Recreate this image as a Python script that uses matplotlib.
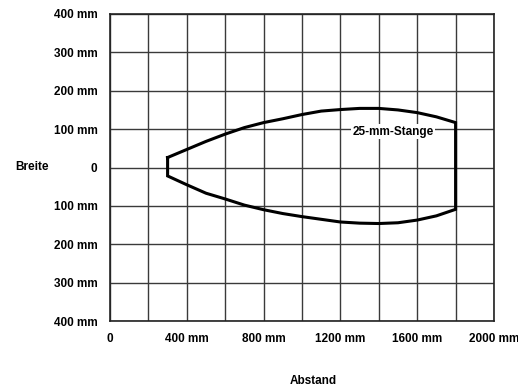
import matplotlib
matplotlib.use("Agg")
import matplotlib.pyplot as plt

# Abstand (mm) und Breite (mm) des Erfassungsbereichs
abstand = [300, 400, 500, 600, 700, 800, 900, 1000, 1100, 1200, 1300, 1400, 1500, 1600, 1700, 1800]
breite_oben = [26, 47, 68, 87, 104, 117, 127, 138, 147, 151, 154, 154, 150, 143, 132, 117]
breite_unten = [-22, -45, -67, -82, -98, -110, -120, -128, -135, -142, -145, -146, -144, -137, -126, -109]

x_ticks = [0, 400, 800, 1200, 1600, 2000]
x_labels = ['0', '400 mm', '800 mm', '1200 mm', '1600 mm', '2000 mm']
y_ticks = [-400, -300, -200, -100, 0, 100, 200, 300, 400]
y_labels = ['400 mm', '300 mm', '200 mm', '100 mm', '0', '100 mm', '200 mm', '300 mm', '400 mm']

plt.rcParams['font.family'] = ['Liberation Sans', 'DejaVu Sans']
plt.rcParams['font.weight'] = 'bold'

fig = plt.figure(figsize=(5.18, 3.89), dpi=100)
ax = fig.add_axes([110 / 518, 1 - 321 / 389, 384 / 518, 307 / 389])

# Raster
for gx in range(0, 2001, 200):
    ax.axvline(gx, color='#3a3a3a', lw=1, zorder=1)
for gy in range(-400, 401, 100):
    ax.axhline(gy, color='#3a3a3a', lw=1, zorder=1)

# Kontur schliessen: oben, dann unten rueckwaerts
kx = abstand + abstand[::-1] + [abstand[0]]
ky = breite_oben + breite_unten[::-1] + [breite_oben[0]]
ax.plot(kx, ky, color='black', lw=2.2, zorder=3, solid_joinstyle='miter')

ax.text(1475, 93, '25-mm-Stange', ha='center', va='center', fontsize=8.5,
        fontweight='bold', zorder=4,
        bbox=dict(facecolor='white', edgecolor='none', pad=1))

ax.set_xlim(0, 2000)
ax.set_ylim(-400, 400)
ax.set_xticks(x_ticks)
ax.set_xticklabels(x_labels, fontsize=8.5, fontweight='bold')
ax.set_yticks(y_ticks)
ax.set_yticklabels(y_labels, fontsize=8.5, fontweight='bold')
ax.tick_params(length=0, pad=9)
for s in ax.spines.values():
    s.set_color('#222222')
    s.set_linewidth(1.2)

fig.text(32 / 518, 1 - 167 / 389, 'Breite', ha='center', va='center', fontsize=8.5, fontweight='bold')
fig.text(313 / 518, 1 - 381 / 389, 'Abstand', ha='center', va='center', fontsize=8.5, fontweight='bold')

fig.savefig('out.png', dpi=100)
